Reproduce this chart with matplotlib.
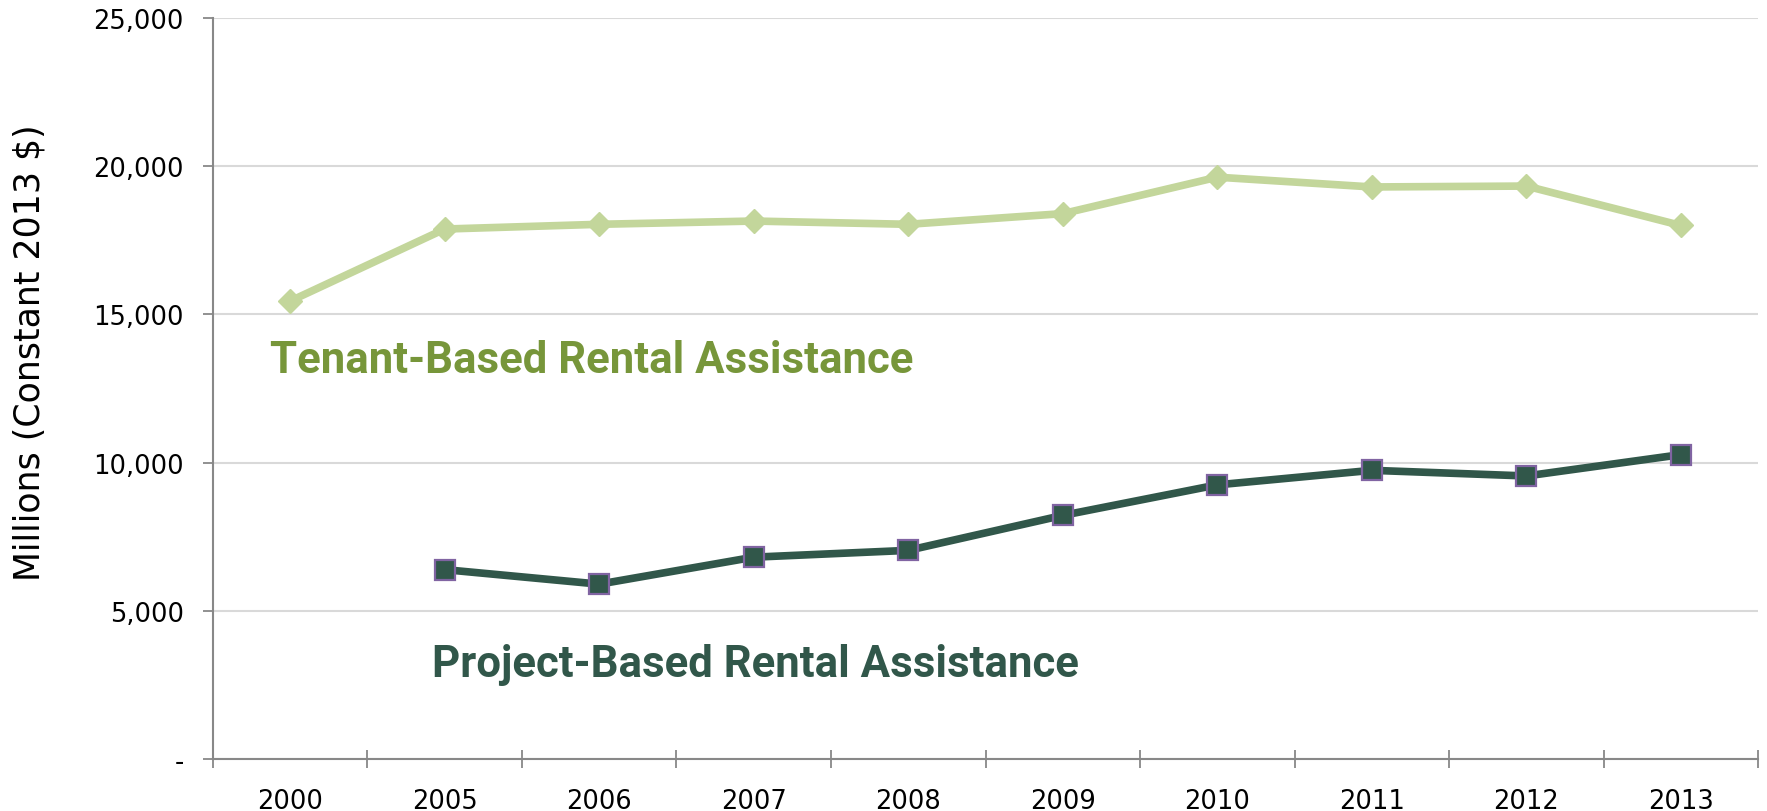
import numpy as np
import matplotlib
matplotlib.use("Agg")
import matplotlib.pyplot as plt
from matplotlib.ticker import FixedLocator

# data (millions, constant 2013 $)
years = ["2000", "2005", "2006", "2007", "2008", "2009", "2010", "2011", "2012", "2013"]
tenant = [15450, 17880, 18040, 18150, 18040, 18400, 19630, 19300, 19330, 18000]
project = [np.nan, 6390, 5900, 6810, 7040, 8220, 9250, 9740, 9550, 10270]
yticks = [0, 5000, 10000, 15000, 20000, 25000]
ytick_labels = ["-", "5,000", "10,000", "15,000", "20,000", "25,000"]

tenant_col = "#C3D69B"
tenant_txt = "#77963A"
project_col = "#31574A"
edge_col = "#8064A2"

plt.rcParams["font.family"] = ["DejaVu Sans"]

fig = plt.figure(figsize=(17.67, 8.12), dpi=100)
ax = fig.add_axes([0.1205, 0.064, 0.8745, 0.9126])

x = np.arange(len(years))
ax.plot(x, tenant, color=tenant_col, lw=5.5, marker="D", ms=12,
        mfc=tenant_col, mec=tenant_col, zorder=3)
ax.plot(x, project, color=project_col, lw=5.5, marker="s", ms=14,
        mfc=project_col, mec=edge_col, mew=1.6, zorder=3)

ax.set_xlim(-0.5, len(years) - 0.5)
ax.set_ylim(0, 25000)

ax.set_yticks(yticks)
ax.set_yticklabels(ytick_labels)
ax.set_xticks(x)
ax.set_xticklabels(years)
ax.xaxis.set_minor_locator(FixedLocator(np.arange(-0.5, len(years), 1.0)))

ax.tick_params(axis="x", which="major", length=0, pad=21, labelsize=18.5)
ax.tick_params(axis="x", which="minor", direction="inout", length=13,
               width=1.3, color="#888888")
ax.tick_params(axis="y", length=7, width=1.3, color="#888888", pad=14,
               labelsize=18.5)

ax.grid(axis="y", color="#D9D9D9", lw=1.5, zorder=0)
ax.set_axisbelow(True)
for s in ["top", "right"]:
    ax.spines[s].set_visible(False)
for s in ["left", "bottom"]:
    ax.spines[s].set_color("#888888")
    ax.spines[s].set_linewidth(1.5)

ax.set_ylabel("Millions (Constant 2013 $)", fontsize=25)
ax.yaxis.set_label_coords(-0.108, 0.55)

ax.text(-0.13, 13470, "Tenant-Based Rental Assistance", color=tenant_txt,
        fontsize=31.5, fontweight="bold", va="center", ha="left",
        family=["Roboto", "DejaVu Sans"])
ax.text(0.92, 3200, "Project-Based Rental Assistance", color=project_col,
        fontsize=31.5, fontweight="bold", va="center", ha="left",
        family=["Roboto", "DejaVu Sans"])

fig.savefig("out.png", dpi=100)
